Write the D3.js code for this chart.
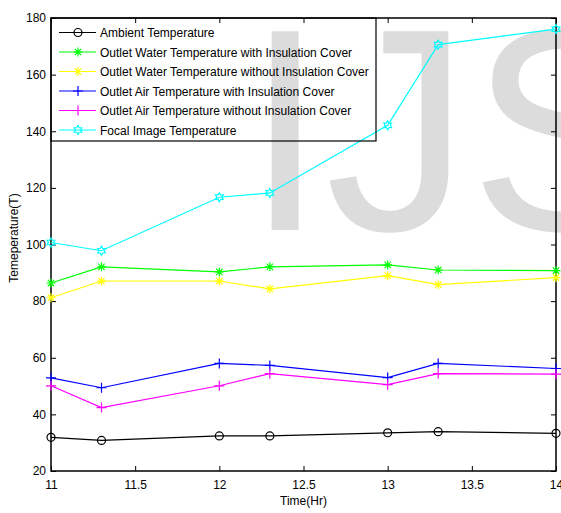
<!DOCTYPE html>
<html>
<head>
<meta charset="utf-8">
<script src="https://cdn.jsdelivr.net/npm/d3@7"></script>
<style>
  body { margin: 0; background: #fff; }
  svg { display: block; font-family: "Liberation Sans", Arial, sans-serif; }
</style>
</head>
<body>
<svg id="chart"></svg>
<script>
// Chart data
var hours = [11, 11.3, 12, 12.3, 13, 13.3, 14];
var ambient = [31.9, 30.8, 32.4, 32.4, 33.5, 33.9, 33.3];
var waterWith = [86.4, 92.1, 90.3, 92.1, 92.8, 91.0, 90.8];
var waterWithout = [81.2, 87.1, 87.1, 84.3, 89.0, 85.8, 88.3];
var airWith = [52.9, 49.4, 58.0, 57.3, 53.0, 58.0, 56.2];
var airWithout = [50.1, 42.4, 50.1, 54.4, 50.5, 54.4, 54.2];
var focal = [100.7, 97.8, 116.7, 118.2, 142.1, 170.6, 176.1];
var xTicks = [11, 11.5, 12, 12.5, 13, 13.5, 14];
var yTicks = [20, 40, 60, 80, 100, 120, 140, 160, 180];

var series = [
  {name: "Ambient Temperature", values: ambient, color: "#000000", marker: "circle"},
  {name: "Outlet Water Temperature with Insulation Cover", values: waterWith, color: "#00ff00", marker: "asterisk"},
  {name: "Outlet Water Temperature without Insulation Cover", values: waterWithout, color: "#ffff00", marker: "asterisk"},
  {name: "Outlet Air Temperature with Insulation Cover", values: airWith, color: "#0000ff", marker: "plus"},
  {name: "Outlet Air Temperature without Insulation Cover", values: airWithout, color: "#ff00ff", marker: "plus"},
  {name: "Focal Image Temperature", values: focal, color: "#00ffff", marker: "hexagram"}
];

// Dimensions
var W = 561, H = 513;
var margin = {top: 18, right: 5, bottom: 42, left: 51};
var width = W - margin.left - margin.right,
    height = H - margin.top - margin.bottom;

var svg = d3.select("#chart")
    .attr("width", W)
    .attr("height", H);

// Watermark
svg.append("text")
    .attr("x", 245)
    .attr("y", 230)
    .attr("font-size", 289)
    .attr("fill", "#dcdcdc")
    .text("IJS");

var g = svg.append("g")
    .attr("transform", "translate(" + margin.left + "," + margin.top + ")");

// Scales
var x = d3.scaleLinear().domain([11, 14]).range([0, width]);
var y = d3.scaleLinear().domain([20, 180]).range([height, 0]);

// Axes with inward ticks
function styleAxis(sel) {
  sel.select(".domain").remove();
  sel.selectAll("line").attr("stroke", "#000");
  sel.selectAll("text").attr("fill", "#000").attr("font-size", 12)
     .attr("font-family", "Liberation Sans, Arial, sans-serif");
}

g.append("g")
    .attr("transform", "translate(0," + height + ")")
    .call(d3.axisBottom(x).tickValues(xTicks).tickSize(-5).tickPadding(9).tickFormat(d3.format("")))
    .call(styleAxis);
g.append("g")
    .call(d3.axisTop(x).tickValues(xTicks).tickSize(-5).tickFormat(""))
    .call(styleAxis);
g.append("g")
    .call(d3.axisLeft(y).tickValues(yTicks).tickSize(-5).tickPadding(5))
    .call(styleAxis);
g.append("g")
    .attr("transform", "translate(" + width + ",0)")
    .call(d3.axisRight(y).tickValues(yTicks).tickSize(-5).tickFormat(""))
    .call(styleAxis);

// Box
g.append("rect")
    .attr("width", width)
    .attr("height", height)
    .attr("fill", "none")
    .attr("stroke", "#000")
    .attr("stroke-width", 1.5);

// Marker paths
function markerPath(type) {
  if (type === "circle") return d3.symbol().type(d3.symbolCircle).size(50)();
  if (type === "plus") return "M-5,0H5M0,-5V5";
  if (type === "asterisk") return "M-4.5,0H4.5M0,-4.5V4.5M-3.2,-3.2L3.2,3.2M-3.2,3.2L3.2,-3.2";
  // hexagram
  var pts = [];
  for (var i = 0; i < 12; i++) {
    var r = i % 2 === 0 ? 4.5 : 2.6;
    var a = Math.PI / 6 * i - Math.PI / 2;
    pts.push([r * Math.cos(a), r * Math.sin(a)]);
  }
  return "M" + pts.join("L") + "Z";
}

var line = d3.line()
    .x(function(d) { return x(d.h); })
    .y(function(d) { return y(d.v); });

series.forEach(function(s) {
  var data = hours.map(function(h, i) { return {h: h, v: s.values[i]}; });
  g.append("path")
      .datum(data)
      .attr("fill", "none")
      .attr("stroke", s.color)
      .attr("stroke-width", 1.2)
      .attr("d", line);
  g.selectAll(null)
      .data(data)
      .enter()
      .append("path")
      .attr("transform", function(d) { return "translate(" + x(d.h) + "," + y(d.v) + ")"; })
      .attr("d", markerPath(s.marker))
      .attr("fill", "none")
      .attr("stroke", s.color)
      .attr("stroke-width", 1.2);
});

// Legend
var legend = g.append("g");
legend.append("rect")
    .attr("x", 0)
    .attr("y", 0)
    .attr("width", 325)
    .attr("height", 123)
    .attr("fill", "none")
    .attr("stroke", "#000")
    .attr("stroke-width", 1.2);

series.forEach(function(s, i) {
  var ly = 14.5 + i * 19.5;
  var row = legend.append("g").attr("transform", "translate(0," + ly + ")");
  row.append("line")
      .attr("x1", 8).attr("x2", 45)
      .attr("stroke", s.color).attr("stroke-width", 1.2);
  row.append("path")
      .attr("transform", "translate(27,0)")
      .attr("d", markerPath(s.marker))
      .attr("fill", "none")
      .attr("stroke", s.color)
      .attr("stroke-width", 1.2);
  row.append("text")
      .attr("x", 49)
      .attr("y", 4.5)
      .attr("font-size", 12)
      .attr("fill", "#000")
      .text(s.name);
});

// Axis labels
svg.append("text")
    .attr("x", margin.left + width / 2)
    .attr("y", 505)
    .attr("text-anchor", "middle")
    .attr("font-size", 12)
    .text("Time(Hr)");
svg.append("text")
    .attr("transform", "translate(18,238) rotate(-90)")
    .attr("text-anchor", "middle")
    .attr("font-size", 12)
    .text("Temeperature(T)");
</script>
</body>
</html>
